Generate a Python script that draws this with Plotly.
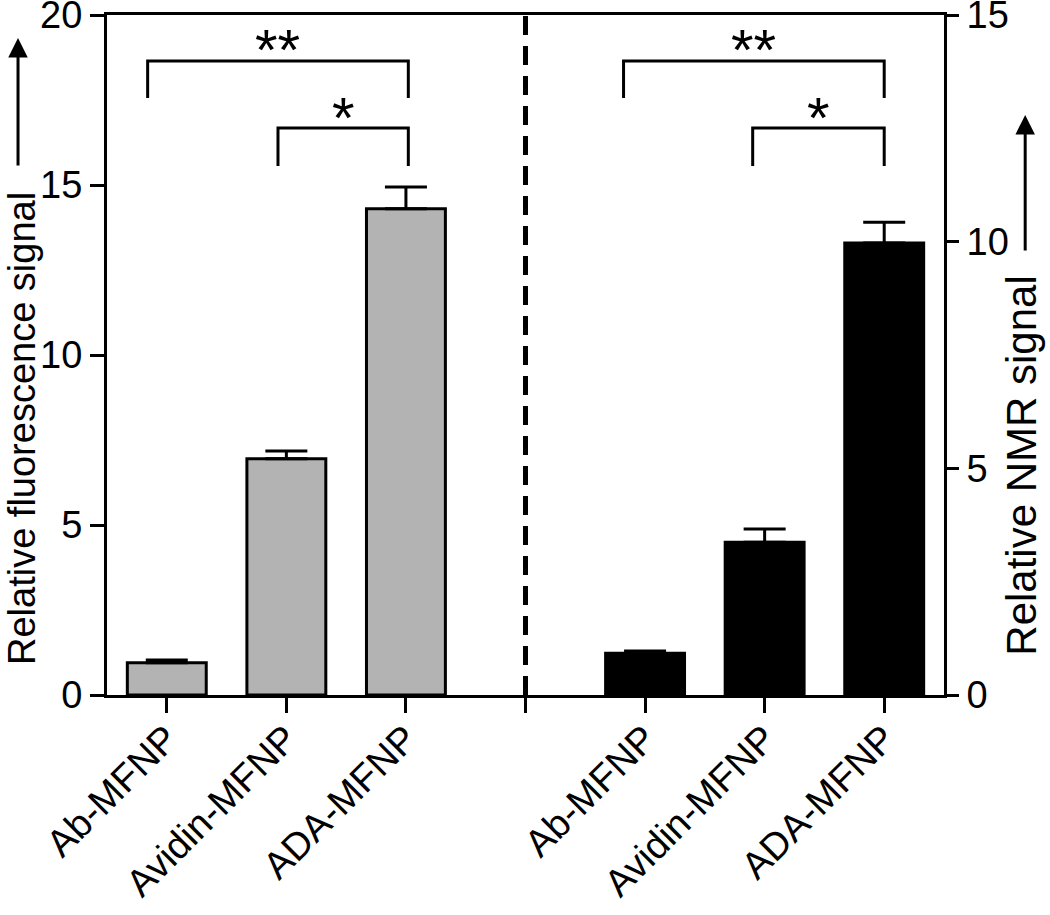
import plotly.graph_objects as go

categories = ["Ab-MFNP", "Avidin-MFNP", "ADA-MFNP"]
fluor_values = [0.95, 6.95, 14.3]
fluor_errors = [0.08, 0.23, 0.64]
nmr_values = [0.92, 3.37, 9.97]
nmr_errors = [0.05, 0.29, 0.46]
left_title = "Relative fluorescence signal"
right_title = "Relative NMR signal"

FONT = "Arial, Liberation Sans, Helvetica, sans-serif"

left_x = list(range(len(categories)))
sep_x = len(categories)
right_x = [sep_x + 1 + i for i in range(len(categories))]

fig = go.Figure()
fig.add_trace(go.Bar(
    x=left_x, y=fluor_values, width=0.66,
    marker=dict(color="#b3b3b3", line=dict(color="black", width=3)),
    error_y=dict(type="data", symmetric=False, array=fluor_errors,
                 arrayminus=[0] * len(fluor_errors), color="black", thickness=3, width=21),
    yaxis="y", showlegend=False, cliponaxis=False,
))
fig.add_trace(go.Bar(
    x=right_x, y=nmr_values, width=0.66,
    marker=dict(color="black", line=dict(color="black", width=3)),
    error_y=dict(type="data", symmetric=False, array=nmr_errors,
                 arrayminus=[0] * len(nmr_errors), color="black", thickness=3, width=21),
    yaxis="y2", showlegend=False, cliponaxis=False,
))

# dashed separator
fig.add_shape(type="line", xref="x", yref="paper", x0=sep_x, x1=sep_x, y0=0, y1=1,
              line=dict(color="black", width=5, dash="19px,11px"))

# significance brackets (in left-axis units)
def bracket(xa, xb, ytop, ybot, label, star_y):
    fig.add_shape(type="path", xref="x", yref="y",
                  path=f"M {xa},{ybot} L {xa},{ytop} L {xb},{ytop} L {xb},{ybot}",
                  line=dict(color="black", width=3))
    fig.add_annotation(x=(xa + xb) / 2, y=star_y, xref="x", yref="y", text=label,
                       showarrow=False, font=dict(family=FONT, size=58, color="black"),
                       yanchor="middle", yshift=-7)

bracket(left_x[0] - 0.16, left_x[2] + 0.02, 18.65, 17.56, "**", 19.2)
bracket(left_x[1] - 0.07, left_x[2] + 0.02, 16.68, 15.56, "*", 17.2)
bracket(right_x[0] - 0.18, right_x[2] + 0.0, 18.65, 17.56, "**", 19.2)
bracket(right_x[1] - 0.1, right_x[2] + 0.0, 16.68, 15.56, "*", 17.2)

# axis titles and arrows
fig.add_annotation(xref="paper", yref="paper", x=-0.1016, y=0.3926, text=left_title,
                   textangle=-90, showarrow=False, xanchor="center", yanchor="middle",
                   font=dict(family=FONT, size=38, color="black"))
fig.add_annotation(xref="paper", yref="paper", x=1.093, y=0.337, text=right_title,
                   textangle=-90, showarrow=False, xanchor="center", yanchor="middle",
                   font=dict(family=FONT, size=42, color="black"))
fig.add_annotation(xref="paper", yref="paper", x=-0.1063, y=0.966, ax=0, ay=129,
                   showarrow=True, arrowhead=2, arrowsize=1.3, arrowwidth=3,
                   arrowcolor="black", text="")
fig.add_annotation(xref="paper", yref="paper", x=1.097, y=0.853, ax=0, ay=137,
                   showarrow=True, arrowhead=2, arrowsize=1.3, arrowwidth=3,
                   arrowcolor="black", text="")

tickvals = left_x + [sep_x] + right_x
ticktext = categories + [""] + categories

common = dict(showline=True, linecolor="black", linewidth=3, ticks="outside",
              tickwidth=3, tickcolor="black", showgrid=False, zeroline=False,
              automargin=False, ticklabeloverflow="allow",
              tickfont=dict(family=FONT, size=38, color="black"))

fig.update_layout(
    width=1050, height=915,
    margin=dict(l=107, r=106, t=15, b=220, autoexpand=False),
    paper_bgcolor="white", plot_bgcolor="white",
    font=dict(family=FONT, size=38, color="black"),
    xaxis=dict(range=[-0.5, 6.5], tickvals=tickvals, ticktext=ticktext, tickangle=-45,
               mirror=True, ticklen=15, ticklabelstandoff=-12, **common),
    yaxis=dict(range=[0, 20], tickvals=[0, 5, 10, 15, 20], ticklen=14, **common),
    yaxis2=dict(range=[0, 15], tickvals=[0, 5, 10, 15], overlaying="y", side="right",
                ticklen=12, **common),
)

fig.write_html("out.html", config={"displayModeBar": False},
               post_script="document.body.style.margin='0';document.body.style.overflow='hidden';")
